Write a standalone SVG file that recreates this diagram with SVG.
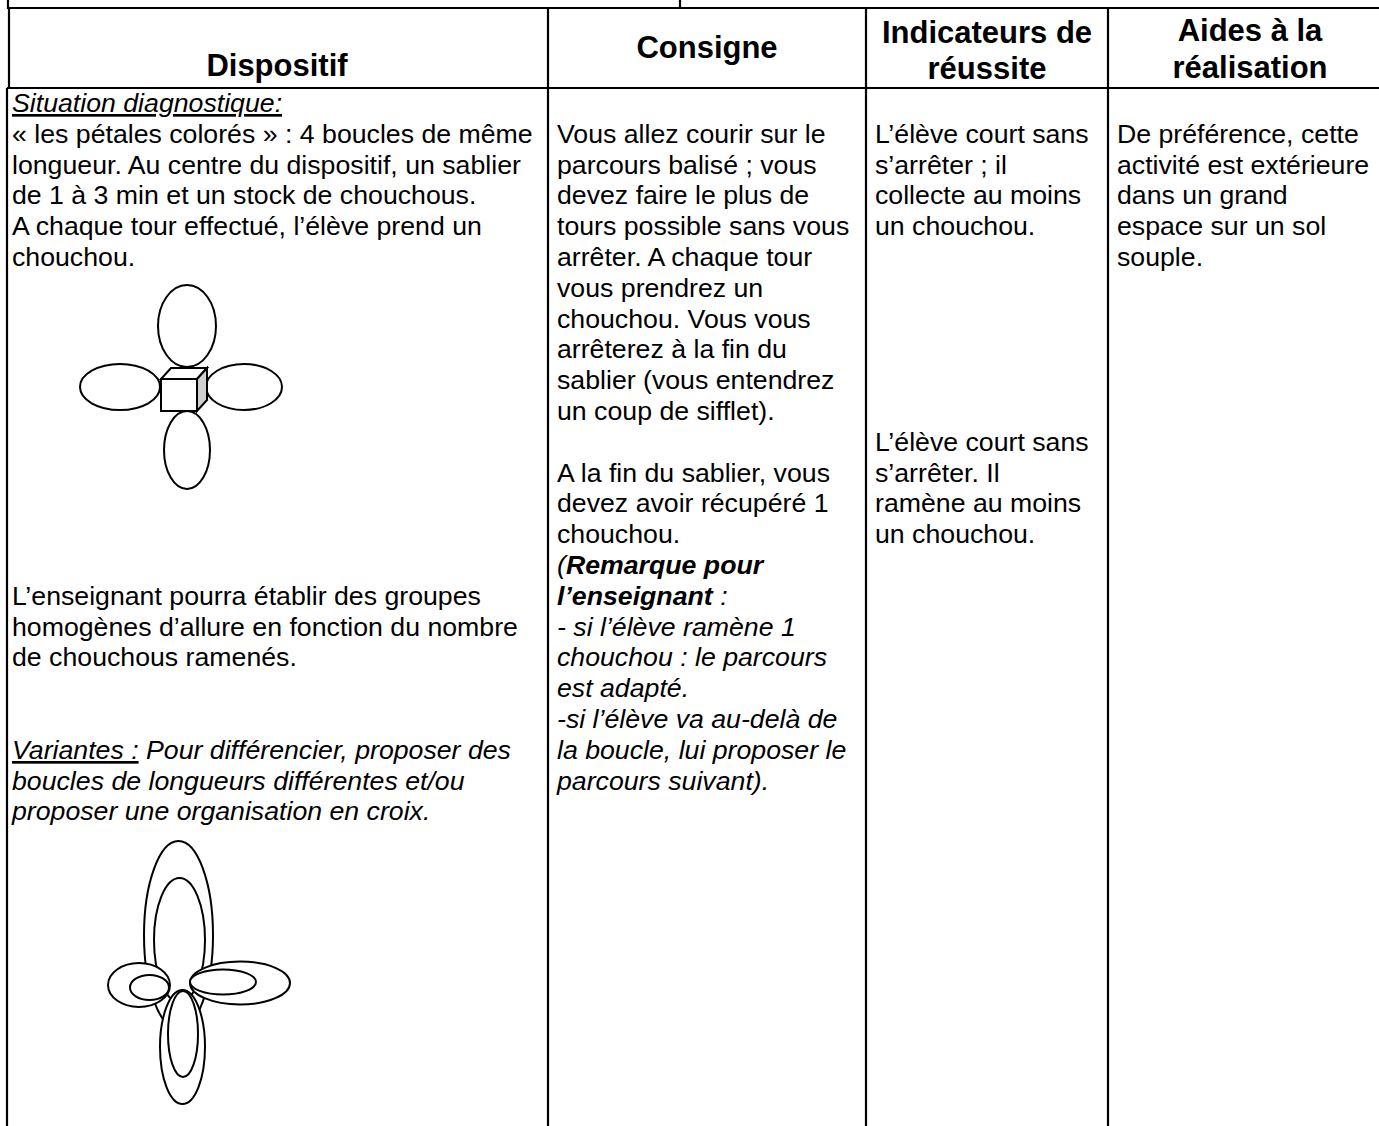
<svg xmlns="http://www.w3.org/2000/svg" width="1379" height="1126" viewBox="0 0 1379 1126">
<style>
.t{font-family:"Liberation Sans",Arial,sans-serif;font-size:26.7px;fill:#000}
.h{font-family:"Liberation Sans",Arial,sans-serif;font-size:31px;font-weight:bold;fill:#000;text-anchor:middle}
.i{font-style:italic}
.b{font-weight:bold}
.u{text-decoration:underline}
.ln{stroke:#000;stroke-width:2.2;fill:none}
.sh{stroke:#000;stroke-width:2;fill:#fff}
</style>
<rect width="1379" height="1126" fill="#fff"/>
<g id="grid">
<line class="ln" x1="8" y1="0" x2="8" y2="9"/>
<line class="ln" x1="680" y1="0" x2="680" y2="9"/>
<line class="ln" x1="7" y1="8" x2="1379" y2="8"/>
<line class="ln" x1="7" y1="88" x2="1379" y2="88"/>
<line class="ln" x1="9" y1="8" x2="9" y2="88"/>
<line class="ln" x1="7" y1="88" x2="7" y2="1126"/>
<line class="ln" x1="548" y1="8" x2="548" y2="1126"/>
<line class="ln" x1="866" y1="8" x2="866" y2="1126"/>
<line class="ln" x1="1108" y1="8" x2="1108" y2="1126"/>
</g>
<g id="header">
<text class="h" x="277" y="76">Dispositif</text>
<text class="h" x="707" y="58">Consigne</text>
<text class="h" x="987" y="43">Indicateurs de</text>
<text class="h" x="987" y="79">réussite</text>
<text class="h" x="1250" y="41">Aides à la</text>
<text class="h" x="1250" y="78">réalisation</text>
</g>
<g id="dispositif" class="t">
<text x="12" y="112" class="t i u">Situation diagnostique:</text>
<text x="12" y="143" class="t">« les pétales colorés » : 4 boucles de même</text>
<text x="12" y="174" class="t">longueur. Au centre du dispositif, un sablier</text>
<text x="12" y="204" class="t">de 1 à 3 min et un stock de chouchous.</text>
<text x="12" y="235" class="t">A chaque tour effectué, l’élève prend un</text>
<text x="12" y="266" class="t">chouchou.</text>
<text x="12" y="605" class="t">L’enseignant pourra établir des groupes</text>
<text x="12" y="636" class="t">homogènes d’allure en fonction du nombre</text>
<text x="12" y="666" class="t">de chouchous ramenés.</text>
<text x="12" y="759" class="t i"><tspan class="u">Variantes :</tspan> Pour différencier, proposer des</text>
<text x="12" y="790" class="t i">boucles de longueurs différentes et/ou</text>
<text x="12" y="820" class="t i">proposer une organisation en croix.</text>
</g>
<g id="petales">
<ellipse class="sh" cx="187" cy="326" rx="29" ry="41"/>
<ellipse class="sh" cx="120" cy="387" rx="40" ry="23"/>
<ellipse class="sh" cx="244" cy="387" rx="38" ry="23"/>
<ellipse class="sh" cx="187" cy="450" rx="23" ry="39"/>
<rect class="sh" x="161" y="379" width="36" height="32"/>
<polygon class="sh" points="161,379 171,368 207,368 197,379"/>
<polygon points="197,379 207,368 207,400 197,411" fill="#d0d0d0" stroke="#000" stroke-width="2"/>
</g>
<g id="croix">
<ellipse class="sh" cx="178.5" cy="935" rx="34.5" ry="94"/>
<ellipse class="sh" cx="179.5" cy="940" rx="25.5" ry="62"/>
<ellipse class="sh" cx="139" cy="985" rx="31" ry="22"/>
<ellipse class="sh" cx="149.5" cy="987.5" rx="19.5" ry="12.5"/>
<ellipse class="sh" cx="240" cy="983" rx="50" ry="21.5"/>
<ellipse class="sh" cx="223" cy="982" rx="33" ry="12.5"/>
<ellipse class="sh" cx="182.5" cy="1047" rx="22.5" ry="57"/>
<ellipse class="sh" cx="183" cy="1034" rx="15" ry="43"/>
</g>
<g id="consigne">
<text x="557" y="143" class="t">Vous allez courir sur le</text>
<text x="557" y="174" class="t">parcours balisé ; vous</text>
<text x="557" y="204" class="t">devez faire le plus de</text>
<text x="557" y="235" class="t">tours possible sans vous</text>
<text x="557" y="266" class="t">arrêter. A chaque tour</text>
<text x="557" y="297" class="t">vous prendrez un</text>
<text x="557" y="328" class="t">chouchou. Vous vous</text>
<text x="557" y="358" class="t">arrêterez à la fin du</text>
<text x="557" y="389" class="t">sablier (vous entendrez</text>
<text x="557" y="420" class="t">un coup de sifflet).</text>
<text x="557" y="482" class="t">A la fin du sablier, vous</text>
<text x="557" y="512" class="t">devez avoir récupéré 1</text>
<text x="557" y="543" class="t">chouchou.</text>
<text x="557" y="574" class="t i">(<tspan class="b">Remarque pour</tspan></text>
<text x="557" y="605" class="t i"><tspan class="b">l’enseignant</tspan> :</text>
<text x="557" y="636" class="t i">- si l’élève ramène 1</text>
<text x="557" y="666" class="t i">chouchou : le parcours</text>
<text x="557" y="697" class="t i">est adapté.</text>
<text x="557" y="728" class="t i">-si l’élève va au-delà de</text>
<text x="557" y="759" class="t i">la boucle, lui proposer le</text>
<text x="557" y="790" class="t i">parcours suivant).</text>
</g>
<g id="indicateurs">
<text x="875" y="143" class="t">L’élève court sans</text>
<text x="875" y="174" class="t">s’arrêter ; il</text>
<text x="875" y="204" class="t">collecte au moins</text>
<text x="875" y="235" class="t">un chouchou.</text>
<text x="875" y="451" class="t">L’élève court sans</text>
<text x="875" y="482" class="t">s’arrêter. Il</text>
<text x="875" y="512" class="t">ramène au moins</text>
<text x="875" y="543" class="t">un chouchou.</text>
</g>
<g id="aides">
<text x="1117" y="143" class="t">De préférence, cette</text>
<text x="1117" y="174" class="t">activité est extérieure</text>
<text x="1117" y="204" class="t">dans un grand</text>
<text x="1117" y="235" class="t">espace sur un sol</text>
<text x="1117" y="266" class="t">souple.</text>
</g>
</svg>
